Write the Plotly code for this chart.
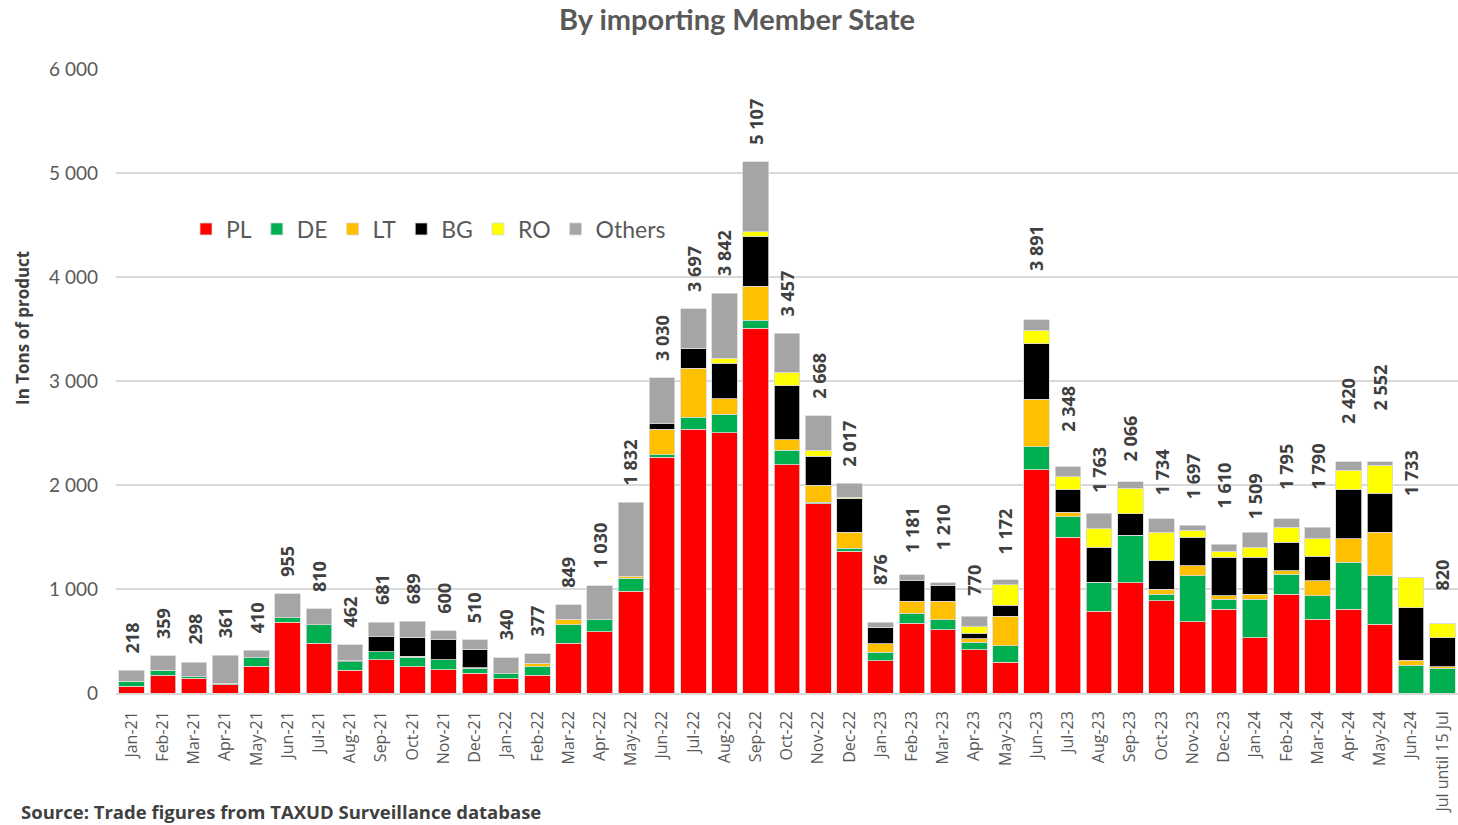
import plotly.graph_objects as go

months = ["Jan-21", "Feb-21", "Mar-21", "Apr-21", "May-21", "Jun-21", "Jul-21", "Aug-21",
          "Sep-21", "Oct-21", "Nov-21", "Dec-21", "Jan-22", "Feb-22", "Mar-22", "Apr-22",
          "May-22", "Jun-22", "Jul-22", "Aug-22", "Sep-22", "Oct-22", "Nov-22", "Dec-22",
          "Jan-23", "Feb-23", "Mar-23", "Apr-23", "May-23", "Jun-23", "Jul-23", "Aug-23",
          "Sep-23", "Oct-23", "Nov-23", "Dec-23", "Jan-24", "Feb-24", "Mar-24", "Apr-24",
          "May-24", "Jun-24", "Jul until 15 Jul"]

pl = [65, 173, 140, 78, 258, 678, 478, 220, 318, 253, 222, 190, 138, 173, 478, 590,
      980, 2265, 2535, 2503, 3508, 2193, 1818, 1365, 312, 672, 607, 414, 296, 2147,
      1497, 785, 1061, 885, 686, 804, 532, 949, 708, 804, 660, 0, 0]
de = [50, 48, 15, 16, 80, 48, 176, 80, 80, 93, 96, 48, 48, 80, 176, 112,
      122, 27, 115, 177, 78, 143, 17, 29, 80, 97, 96, 74, 160, 222,
      199, 279, 455, 64, 442, 97, 369, 195, 225, 452, 468, 269, 237]
lt = [0, 0, 0, 0, 0, 0, 0, 0, 0, 8, 0, 5, 0, 32, 55, 0,
      22, 245, 475, 150, 326, 98, 162, 151, 80, 112, 180, 32, 280, 455,
      44, 0, 0, 48, 96, 32, 48, 32, 147, 225, 420, 48, 16]
bg = [0, 0, 0, 0, 0, 0, 0, 15, 145, 182, 192, 177, 0, 0, 0, 0,
      0, 52, 190, 343, 474, 521, 278, 321, 161, 196, 148, 55, 109, 532,
      212, 337, 208, 275, 276, 371, 355, 273, 237, 471, 372, 504, 276]
ro = [0, 0, 0, 0, 0, 0, 0, 0, 0, 0, 0, 0, 0, 0, 0, 0,
      0, 0, 0, 45, 47, 129, 61, 16, 0, 0, 0, 64, 196, 134,
      128, 176, 244, 276, 64, 61, 97, 147, 164, 192, 272, 288, 144]
others = [103, 138, 143, 267, 72, 229, 156, 147, 138, 153, 90, 90, 154, 92, 140, 328,
          708, 441, 382, 624, 674, 373, 332, 135, 48, 61, 29, 97, 48, 97,
          96, 151, 64, 128, 48, 64, 144, 80, 115, 80, 32, 0, 0]

totals = [218, 359, 298, 361, 410, 955, 810, 462, 681, 689, 600, 510, 340, 377, 849, 1030,
          1832, 3030, 3697, 3842, 5107, 3457, 2668, 2017, 876, 1181, 1210, 770, 1172, 3891,
          2348, 1763, 2066, 1734, 1697, 1610, 1509, 1795, 1790, 2420, 2552, 1733, 820]

series = [("PL", pl, "#FF0000"), ("DE", de, "#00B050"), ("LT", lt, "#FFC000"),
          ("BG", bg, "#000000"), ("RO", ro, "#FFFF00"), ("Others", others, "#A5A5A5")]

GREY = "#595959"
DARK = "#404040"

W, H = 1458, 825
ML, MR, MT, MB = 116, 0, 69, 132
PW, PH = W - ML - MR, H - MT - MB


def paper_x(px):
    return (px - ML) / PW


def paper_y(py):
    return (H - MB - py) / PH


fig = go.Figure()
for name, vals, color in series:
    fig.add_trace(go.Bar(
        x=months, y=vals, name=name,
        marker=dict(color=color, line=dict(color="#D9D9D9", width=0.8)),
        hoverinfo="x+y+name",
    ))


def fmt(v):
    return f"{v:,}".replace(",", " ")


# Total labels, placed at each month's total value
for m, t in zip(months, totals):
    fig.add_annotation(
        x=m, y=t, xref="x", yref="y", text=fmt(t), showarrow=False,
        textangle=-90, yanchor="bottom", xanchor="center", yshift=15,
        font=dict(family="Open Sans", size=18, color=DARK, weight="bold"),
    )

fig.add_annotation(
    x=paper_x(22), y=paper_y(328), xref="paper", yref="paper",
    text="In Tons of product", showarrow=False, textangle=-90,
    xanchor="center", yanchor="middle",
    font=dict(family="Open Sans", size=17, color=DARK, weight="bold"),
)

fig.add_annotation(
    x=paper_x(19), y=paper_y(797), xref="paper", yref="paper",
    text="Source: Trade figures from TAXUD Surveillance database",
    showarrow=False, xanchor="left", yanchor="top",
    font=dict(family="Open Sans", size=18.5, color=DARK, weight="bold"),
)

fig.update_layout(
    width=W, height=H,
    margin=dict(l=ML, r=MR, t=MT, b=MB),
    barmode="stack", bargap=0.18,
    plot_bgcolor="white", paper_bgcolor="white",
    separators=". ",
    title=dict(text="<b>By importing Member State</b>", x=737 / W, xref="container",
               xanchor="center", y=1 - 20 / H, yref="container", yanchor="middle",
               font=dict(family="Lato", size=29, color=GREY)),
    legend=dict(orientation="h", x=paper_x(186), xanchor="left",
                y=paper_y(229), yanchor="middle",
                font=dict(family="Lato", size=23, color=GREY),
                bgcolor="rgba(0,0,0,0)", itemwidth=30, traceorder="normal"),
    xaxis=dict(type="category", tickangle=-90, showgrid=False,
               tickfont=dict(family="Open Sans", size=16, color=GREY),
               showline=True, linecolor="#D9D9D9", linewidth=1.5, ticks="",
               ticklabelstandoff=10),
    yaxis=dict(range=[0, 6000], dtick=1000, tickformat=",",
               showgrid=True, gridcolor="#D9D9D9", gridwidth=1.5,
               zeroline=False, showline=False, ticks="",
               tickfont=dict(family="Lato", size=19, color=GREY),
               ticklabelstandoff=17),
)

fig.write_html("out.html")
